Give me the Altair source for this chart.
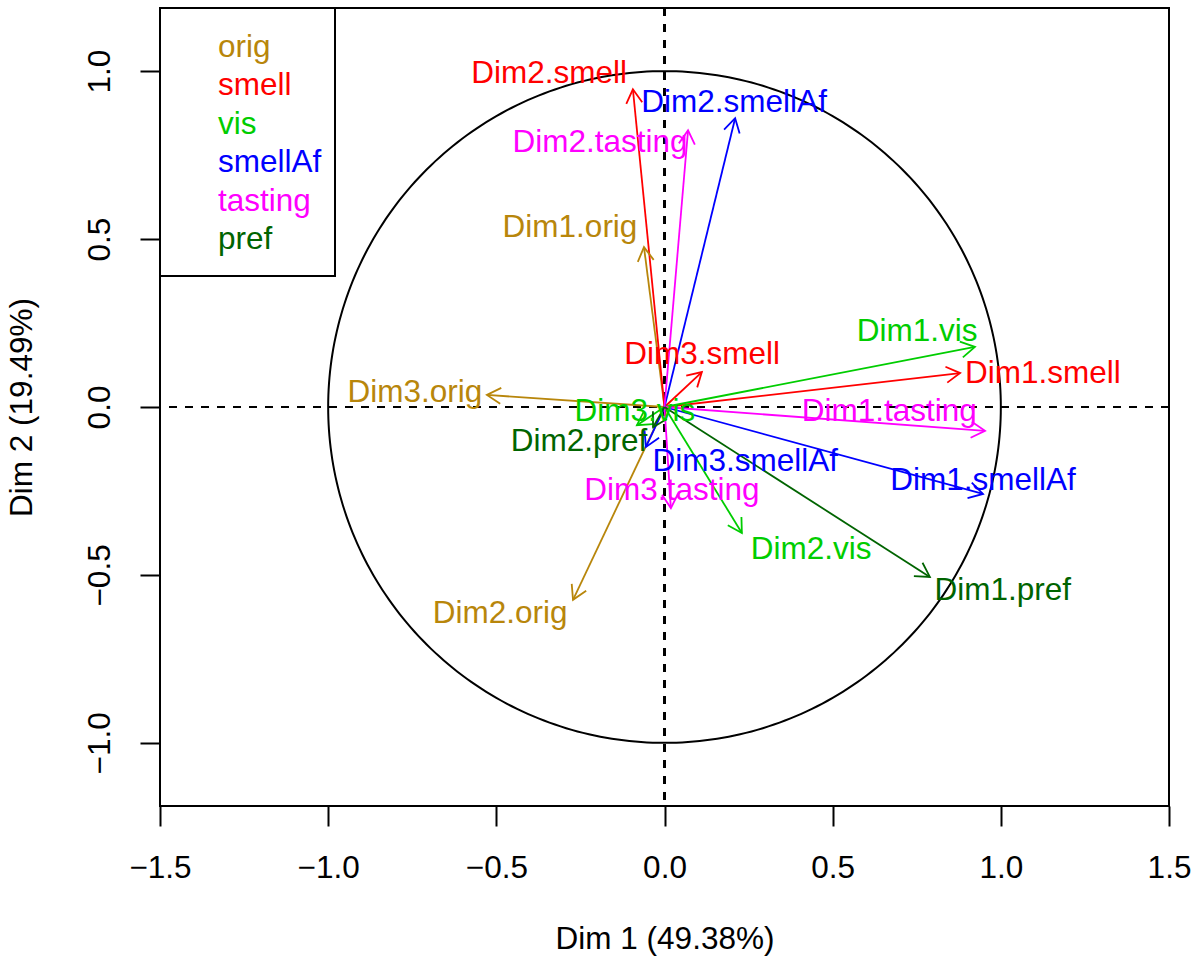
import numpy as np
import pandas as pd
import altair as alt

# Correlations of the partial axes with the first two MFA dimensions
axis_names = ["Dim1.orig", "Dim2.orig", "Dim3.orig",
              "Dim1.smell", "Dim2.smell", "Dim3.smell",
              "Dim1.vis", "Dim2.vis", "Dim3.vis",
              "Dim1.smellAf", "Dim2.smellAf", "Dim3.smellAf",
              "Dim1.tasting", "Dim2.tasting", "Dim3.tasting",
              "Dim1.pref", "Dim2.pref"]
axis_group = ["orig", "orig", "orig",
              "smell", "smell", "smell",
              "vis", "vis", "vis",
              "smellAf", "smellAf", "smellAf",
              "tasting", "tasting", "tasting",
              "pref", "pref"]
dim1 = [-0.061, -0.272, -0.528,
        0.879, -0.094, 0.111,
        0.923, 0.230, -0.082,
        0.947, 0.210, -0.055,
        0.953, 0.070, 0.019,
        0.789, -0.034]
dim2 = [0.476, -0.574, 0.036,
        0.101, 0.946, 0.104,
        0.179, -0.375, -0.054,
        -0.259, 0.860, -0.119,
        -0.071, 0.824, -0.301,
        -0.506, -0.060]

# Where each label sits (data units), spread out so they do not collide
label_x = [-0.281, -0.489, -0.742,
           1.125, -0.343, 0.112,
           0.751, 0.436, -0.088,
           0.947, 0.207, 0.240,
           0.668, -0.192, 0.022,
           1.006, -0.254]
label_y = [0.533, -0.616, 0.042,
           0.098, 0.991, 0.155,
           0.223, -0.426, -0.015,
           -0.220, 0.906, -0.164,
           -0.015, 0.786, -0.250,
           -0.548, -0.104]

groups = ["orig", "smell", "vis", "smellAf", "tasting", "pref"]
group_colors = ["#B8860B", "#FF0000", "#00CD00", "#0000FF", "#FF00FF", "#006400"]

x_ticks = [-1.5, -1.0, -0.5, 0.0, 0.5, 1.0, 1.5]
y_ticks = [-1.0, -0.5, 0.0, 0.5, 1.0]

FONT = "Liberation Sans"
FS = 31.5

df = pd.DataFrame({"name": axis_names, "group": axis_group,
                   "x": dim1, "y": dim2, "lx": label_x, "ly": label_y})
df["x0"] = 0.0
df["y0"] = 0.0
# arrowhead rotation: symbol points up at 0 degrees, rotates clockwise
df["ang"] = np.mod(np.degrees(np.arctan2(df["x"], df["y"])), 360)

theta = np.linspace(0, 2 * np.pi, 361)
circle = pd.DataFrame({"cx": np.cos(theta), "cy": np.sin(theta), "o": np.arange(361)})

xs = alt.Scale(domain=[-1.5, 1.5], nice=False, zero=False)
ys = alt.Scale(domain=[-1.188, 1.188], nice=False, zero=False)
cs = alt.Scale(domain=groups, range=group_colors)

x_axis = alt.Axis(values=x_ticks, format=".1f", grid=False, domain=False,
                  tickSize=20, tickWidth=2, tickColor="black", labelFlush=False,
                  labelFont=FONT, labelFontSize=FS, labelColor="black", labelPadding=26,
                  title="Dim 1 (49.38%)", titleFont=FONT, titleFontSize=FS,
                  titleFontWeight="normal", titleColor="black", titlePadding=40)
y_axis = alt.Axis(values=y_ticks, format=".1f", grid=False, domain=False,
                  tickSize=20, tickWidth=2, tickColor="black", labelFlush=False,
                  labelFont=FONT, labelFontSize=FS, labelColor="black", labelPadding=24,
                  labelAngle=270, labelAlign="center", labelBaseline="bottom",
                  title="Dim 2 (19.49%)", titleFont=FONT, titleFontSize=FS,
                  titleFontWeight="normal", titleColor="black", titlePadding=46)

base = alt.Chart(df)

circ = alt.Chart(circle).mark_line(color="black", strokeWidth=2).encode(
    x=alt.X("cx:Q", scale=xs, axis=x_axis),
    y=alt.Y("cy:Q", scale=ys, axis=y_axis),
    order="o:Q",
)

zero_v = base.mark_rule(color="black", strokeWidth=2, strokeDash=[8, 8]).encode(
    x=alt.datum(0.0, scale=xs))
zero_h = base.mark_rule(color="black", strokeWidth=2, strokeDash=[8, 8]).encode(
    y=alt.datum(0.0, scale=ys))

shafts = base.mark_rule(strokeWidth=1.8).encode(
    x="x0:Q", y="y0:Q", x2="x:Q", y2="y:Q",
    color=alt.Color("group:N", scale=cs, legend=None),
)

heads = base.mark_point(shape="M-0.5,0.866L0,0L0.5,0.866", filled=False,
                        size=1024, strokeWidth=1.8, opacity=1).encode(
    x="x:Q", y="y:Q",
    angle=alt.Angle("ang:Q", scale=None),
    color=alt.Color("group:N", scale=cs, legend=None),
)

labels = base.mark_text(font=FONT, fontSize=FS, align="center", baseline="middle").encode(
    x="lx:Q", y="ly:Q", text="name:N",
    color=alt.Color("group:N", scale=cs, legend=None),
)

# Legend box in the top-left corner
leg_box = base.mark_rect(fill="white", stroke="black", strokeWidth=2).encode(
    x=alt.value(0), x2=alt.value(175), y=alt.value(0), y2=alt.value(268))
leg_texts = []
for i, (g, c) in enumerate(zip(groups, group_colors)):
    leg_texts.append(
        alt.Chart(pd.DataFrame({"t": [g]})).mark_text(
            font=FONT, fontSize=FS, align="left", baseline="alphabetic", color=c
        ).encode(x=alt.value(58), y=alt.value(49 + i * 38.4), text="t:N")
    )

chart = alt.layer(circ, zero_v, zero_h, shafts, heads, labels, leg_box, *leg_texts).properties(
    width=1009, height=798,
    autosize=alt.AutoSizeParams(type="none"),
    padding={"left": 160, "top": 8, "right": 28, "bottom": 156},
    background="white",
).configure_view(stroke="black", strokeWidth=2)

chart.save("out.html", embed_options={"renderer": "svg", "actions": False})
